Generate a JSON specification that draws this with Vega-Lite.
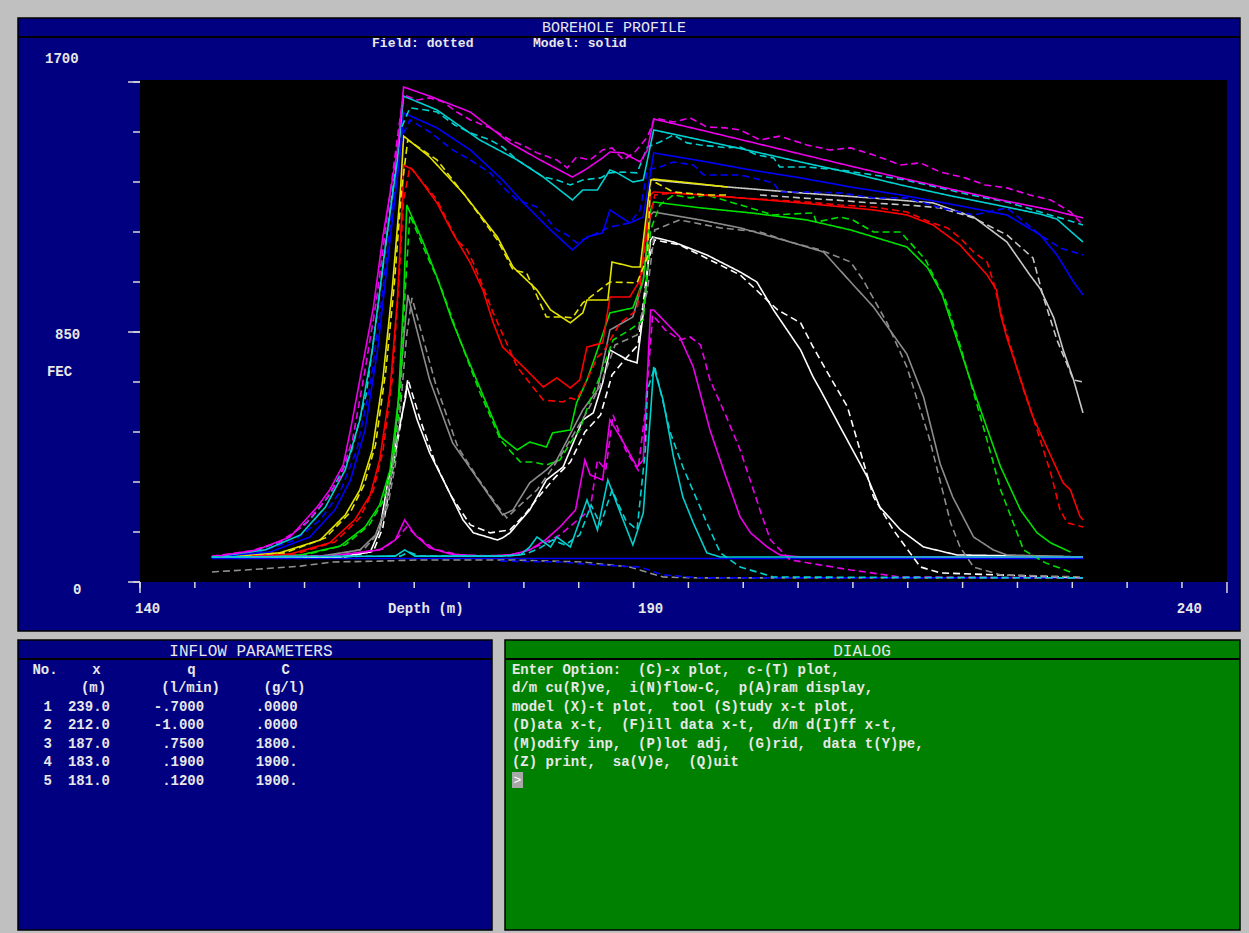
{
"$schema":"https://vega.github.io/schema/vega-lite/v6.json",
"background":"#c0c0c0",
"padding":{"left":16,"top":17,"right":11,"bottom":4},
"bounds":"flush",
"spacing":9,
"config":{"view":{"stroke":null},"axis":{"disable":true},"legend":{"disable":true},"text":{"font":"Liberation Mono"}},
"datasets":{
"curves":[
{"curve":"base","kind":"model","depth":146.9,"fec":80},{"curve":"base","kind":"model","depth":230.5,"fec":80},
{"curve":"init","kind":"field","depth":146.9,"fec":34},{"curve":"init","kind":"field","depth":151.5,"fec":44},{"curve":"init","kind":"field","depth":155.4,"fec":54},{"curve":"init","kind":"field","depth":158.5,"fec":68},{"curve":"init","kind":"field","depth":163.0,"fec":71},{"curve":"init","kind":"field","depth":166.9,"fec":75},{"curve":"init","kind":"field","depth":175.5,"fec":75},{"curve":"init","kind":"field","depth":182.5,"fec":68},{"curve":"init","kind":"field","depth":187.0,"fec":51},{"curve":"init","kind":"field","depth":190.2,"fec":17},{"curve":"init","kind":"field","depth":193.8,"fec":14},{"curve":"init","kind":"field","depth":230.5,"fec":14},
{"curve":"blueLow","kind":"field","depth":174.6,"fec":71},{"curve":"blueLow","kind":"field","depth":180.3,"fec":68},{"curve":"blueLow","kind":"field","depth":183.9,"fec":58},{"curve":"blueLow","kind":"field","depth":188.0,"fec":51},{"curve":"blueLow","kind":"field","depth":190.2,"fec":24},{"curve":"blueLow","kind":"field","depth":193.8,"fec":14},{"curve":"blueLow","kind":"field","depth":230.5,"fec":14},
{"curve":"white","kind":"model","depth":146.9,"fec":85},{"curve":"white","kind":"model","depth":159.2,"fec":85},{"curve":"white","kind":"model","depth":162.1,"fec":102},{"curve":"white","kind":"model","depth":163.0,"fec":177},{"curve":"white","kind":"model","depth":163.7,"fec":323},{"curve":"white","kind":"model","depth":164.7,"fec":493},{"curve":"white","kind":"model","depth":165.5,"fec":629},{"curve":"white","kind":"model","depth":165.6,"fec":670},{"curve":"white","kind":"model","depth":166.6,"fec":551},{"curve":"white","kind":"model","depth":167.8,"fec":439},{"curve":"white","kind":"model","depth":169.1,"fec":347},{"curve":"white","kind":"model","depth":171.0,"fec":211},{"curve":"white","kind":"model","depth":172.0,"fec":167},{"curve":"white","kind":"model","depth":174.3,"fec":143},{"curve":"white","kind":"model","depth":174.8,"fec":150},{"curve":"white","kind":"model","depth":175.5,"fec":167},{"curve":"white","kind":"model","depth":177.4,"fec":245},{"curve":"white","kind":"model","depth":179.0,"fec":347},{"curve":"white","kind":"model","depth":180.6,"fec":391},{"curve":"white","kind":"model","depth":182.5,"fec":551},{"curve":"white","kind":"model","depth":183.5,"fec":575},{"curve":"white","kind":"model","depth":184.4,"fec":677},{"curve":"white","kind":"model","depth":185.1,"fec":789},{"curve":"white","kind":"model","depth":186.8,"fec":755},{"curve":"white","kind":"model","depth":187.7,"fec":745},{"curve":"white","kind":"model","depth":188.3,"fec":915},{"curve":"white","kind":"model","depth":189.0,"fec":1163},{"curve":"white","kind":"model","depth":189.2,"fec":1173},{"curve":"white","kind":"model","depth":191.2,"fec":1156},{"curve":"white","kind":"model","depth":194.4,"fec":1112},{"curve":"white","kind":"model","depth":197.6,"fec":1054},{"curve":"white","kind":"model","depth":199.2,"fec":1020},{"curve":"white","kind":"model","depth":200.8,"fec":925},{"curve":"white","kind":"model","depth":203.4,"fec":789},{"curve":"white","kind":"model","depth":204.6,"fec":697},{"curve":"white","kind":"model","depth":205.3,"fec":653},{"curve":"white","kind":"model","depth":207.2,"fec":527},{"curve":"white","kind":"model","depth":209.8,"fec":357},{"curve":"white","kind":"model","depth":211.0,"fec":255},{"curve":"white","kind":"model","depth":213.0,"fec":177},{"curve":"white","kind":"model","depth":215.2,"fec":119},{"curve":"white","kind":"model","depth":218.4,"fec":92},{"curve":"white","kind":"model","depth":230.5,"fec":85},
{"curve":"white","kind":"field","depth":146.9,"fec":85},{"curve":"white","kind":"field","depth":159.7,"fec":85},{"curve":"white","kind":"field","depth":162.4,"fec":105},{"curve":"white","kind":"field","depth":163.3,"fec":184},{"curve":"white","kind":"field","depth":164.2,"fec":374},{"curve":"white","kind":"field","depth":165.0,"fec":534},{"curve":"white","kind":"field","depth":165.7,"fec":690},{"curve":"white","kind":"field","depth":166.9,"fec":551},{"curve":"white","kind":"field","depth":168.3,"fec":408},{"curve":"white","kind":"field","depth":169.8,"fec":296},{"curve":"white","kind":"field","depth":171.7,"fec":194},{"curve":"white","kind":"field","depth":173.6,"fec":167},{"curve":"white","kind":"field","depth":175.5,"fec":177},{"curve":"white","kind":"field","depth":176.9,"fec":228},{"curve":"white","kind":"field","depth":178.4,"fec":296},{"curve":"white","kind":"field","depth":179.8,"fec":354},{"curve":"white","kind":"field","depth":181.3,"fec":408},{"curve":"white","kind":"field","depth":182.7,"fec":510},{"curve":"white","kind":"field","depth":184.2,"fec":568},{"curve":"white","kind":"field","depth":185.3,"fec":704},{"curve":"white","kind":"field","depth":186.5,"fec":755},{"curve":"white","kind":"field","depth":187.8,"fec":806},{"curve":"white","kind":"field","depth":188.8,"fec":1095},{"curve":"white","kind":"field","depth":189.4,"fec":1163},{"curve":"white","kind":"field","depth":191.8,"fec":1146},{"curve":"white","kind":"field","depth":194.7,"fec":1095},{"curve":"white","kind":"field","depth":197.6,"fec":1044},{"curve":"white","kind":"field","depth":201.2,"fec":925},{"curve":"white","kind":"field","depth":203.4,"fec":881},{"curve":"white","kind":"field","depth":204.6,"fec":799},{"curve":"white","kind":"field","depth":206.0,"fec":711},{"curve":"white","kind":"field","depth":207.9,"fec":595},{"curve":"white","kind":"field","depth":210.4,"fec":289},{"curve":"white","kind":"field","depth":212.3,"fec":177},{"curve":"white","kind":"field","depth":213.9,"fec":99},{"curve":"white","kind":"field","depth":214.9,"fec":51},{"curve":"white","kind":"field","depth":216.8,"fec":31},{"curve":"white","kind":"field","depth":230.5,"fec":14},
{"curve":"gray","kind":"model","depth":146.9,"fec":85},{"curve":"gray","kind":"model","depth":157.3,"fec":88},{"curve":"gray","kind":"model","depth":161.1,"fec":109},{"curve":"gray","kind":"model","depth":162.6,"fec":160},{"curve":"gray","kind":"model","depth":163.5,"fec":245},{"curve":"gray","kind":"model","depth":164.2,"fec":381},{"curve":"gray","kind":"model","depth":164.8,"fec":619},{"curve":"gray","kind":"model","depth":165.3,"fec":823},{"curve":"gray","kind":"model","depth":165.7,"fec":976},{"curve":"gray","kind":"model","depth":167.8,"fec":687},{"curve":"gray","kind":"model","depth":170.0,"fec":473},{"curve":"gray","kind":"model","depth":172.0,"fec":371},{"curve":"gray","kind":"model","depth":173.6,"fec":289},{"curve":"gray","kind":"model","depth":174.8,"fec":228},{"curve":"gray","kind":"model","depth":175.8,"fec":245},{"curve":"gray","kind":"model","depth":177.4,"fec":337},{"curve":"gray","kind":"model","depth":179.0,"fec":381},{"curve":"gray","kind":"model","depth":180.0,"fec":415},{"curve":"gray","kind":"model","depth":182.5,"fec":585},{"curve":"gray","kind":"model","depth":183.9,"fec":653},{"curve":"gray","kind":"model","depth":185.1,"fec":857},{"curve":"gray","kind":"model","depth":187.3,"fec":901},{"curve":"gray","kind":"model","depth":188.3,"fec":1027},{"curve":"gray","kind":"model","depth":189.0,"fec":1248},{"curve":"gray","kind":"model","depth":189.3,"fec":1258},{"curve":"gray","kind":"model","depth":193.8,"fec":1231},{"curve":"gray","kind":"model","depth":197.6,"fec":1204},{"curve":"gray","kind":"model","depth":202.4,"fec":1156},{"curve":"gray","kind":"model","depth":205.6,"fec":1122},{"curve":"gray","kind":"model","depth":208.2,"fec":1020},{"curve":"gray","kind":"model","depth":210.4,"fec":935},{"curve":"gray","kind":"model","depth":213.6,"fec":775},{"curve":"gray","kind":"model","depth":215.2,"fec":629},{"curve":"gray","kind":"model","depth":216.8,"fec":401},{"curve":"gray","kind":"model","depth":218.0,"fec":289},{"curve":"gray","kind":"model","depth":220.0,"fec":153},{"curve":"gray","kind":"model","depth":221.9,"fec":109},{"curve":"gray","kind":"model","depth":223.2,"fec":92},{"curve":"gray","kind":"model","depth":230.5,"fec":85},
{"curve":"gray","kind":"field","depth":146.9,"fec":85},{"curve":"gray","kind":"field","depth":157.8,"fec":88},{"curve":"gray","kind":"field","depth":161.5,"fec":112},{"curve":"gray","kind":"field","depth":162.9,"fec":167},{"curve":"gray","kind":"field","depth":163.8,"fec":262},{"curve":"gray","kind":"field","depth":164.5,"fec":398},{"curve":"gray","kind":"field","depth":165.1,"fec":636},{"curve":"gray","kind":"field","depth":165.6,"fec":840},{"curve":"gray","kind":"field","depth":166.1,"fec":966},{"curve":"gray","kind":"field","depth":168.4,"fec":670},{"curve":"gray","kind":"field","depth":170.5,"fec":459},{"curve":"gray","kind":"field","depth":172.4,"fec":354},{"curve":"gray","kind":"field","depth":174.1,"fec":269},{"curve":"gray","kind":"field","depth":175.2,"fec":218},{"curve":"gray","kind":"field","depth":176.5,"fec":262},{"curve":"gray","kind":"field","depth":178.1,"fec":313},{"curve":"gray","kind":"field","depth":179.6,"fec":388},{"curve":"gray","kind":"field","depth":180.6,"fec":442},{"curve":"gray","kind":"field","depth":183.0,"fec":585},{"curve":"gray","kind":"field","depth":184.2,"fec":670},{"curve":"gray","kind":"field","depth":185.6,"fec":806},{"curve":"gray","kind":"field","depth":187.7,"fec":840},{"curve":"gray","kind":"field","depth":188.7,"fec":993},{"curve":"gray","kind":"field","depth":189.4,"fec":1197},{"curve":"gray","kind":"field","depth":191.8,"fec":1231},{"curve":"gray","kind":"field","depth":195.7,"fec":1204},{"curve":"gray","kind":"field","depth":199.5,"fec":1190},{"curve":"gray","kind":"field","depth":202.4,"fec":1156},{"curve":"gray","kind":"field","depth":205.3,"fec":1129},{"curve":"gray","kind":"field","depth":208.2,"fec":1088},{"curve":"gray","kind":"field","depth":209.4,"fec":1027},{"curve":"gray","kind":"field","depth":211.7,"fec":881},{"curve":"gray","kind":"field","depth":213.6,"fec":731},{"curve":"gray","kind":"field","depth":215.8,"fec":483},{"curve":"gray","kind":"field","depth":217.8,"fec":201},{"curve":"gray","kind":"field","depth":218.7,"fec":119},{"curve":"gray","kind":"field","depth":220.0,"fec":51},{"curve":"gray","kind":"field","depth":222.6,"fec":24},{"curve":"gray","kind":"field","depth":230.5,"fec":17},
{"curve":"green","kind":"model","depth":146.9,"fec":85},{"curve":"green","kind":"model","depth":155.4,"fec":92},{"curve":"green","kind":"model","depth":159.2,"fec":122},{"curve":"green","kind":"model","depth":161.6,"fec":187},{"curve":"green","kind":"model","depth":163.0,"fec":262},{"curve":"green","kind":"model","depth":164.0,"fec":381},{"curve":"green","kind":"model","depth":164.8,"fec":619},{"curve":"green","kind":"model","depth":165.3,"fec":959},{"curve":"green","kind":"model","depth":165.6,"fec":1282},{"curve":"green","kind":"model","depth":167.2,"fec":1153},{"curve":"green","kind":"model","depth":168.5,"fec":1037},{"curve":"green","kind":"model","depth":170.0,"fec":884},{"curve":"green","kind":"model","depth":171.3,"fec":772},{"curve":"green","kind":"model","depth":172.3,"fec":687},{"curve":"green","kind":"model","depth":174.6,"fec":493},{"curve":"green","kind":"model","depth":176.2,"fec":449},{"curve":"green","kind":"model","depth":177.4,"fec":476},{"curve":"green","kind":"model","depth":179.0,"fec":459},{"curve":"green","kind":"model","depth":179.6,"fec":507},{"curve":"green","kind":"model","depth":181.3,"fec":517},{"curve":"green","kind":"model","depth":181.9,"fec":609},{"curve":"green","kind":"model","depth":182.9,"fec":687},{"curve":"green","kind":"model","depth":183.9,"fec":789},{"curve":"green","kind":"model","depth":185.1,"fec":915},{"curve":"green","kind":"model","depth":187.3,"fec":932},{"curve":"green","kind":"model","depth":188.3,"fec":1027},{"curve":"green","kind":"model","depth":189.0,"fec":1265},{"curve":"green","kind":"model","depth":189.3,"fec":1292},{"curve":"green","kind":"model","depth":193.8,"fec":1272},{"curve":"green","kind":"model","depth":198.6,"fec":1255},{"curve":"green","kind":"model","depth":204.0,"fec":1231},{"curve":"green","kind":"model","depth":208.2,"fec":1197},{"curve":"green","kind":"model","depth":213.6,"fec":1139},{"curve":"green","kind":"model","depth":215.6,"fec":1068},{"curve":"green","kind":"model","depth":217.0,"fec":976},{"curve":"green","kind":"model","depth":220.0,"fec":653},{"curve":"green","kind":"model","depth":222.6,"fec":391},{"curve":"green","kind":"model","depth":224.5,"fec":245},{"curve":"green","kind":"model","depth":226.1,"fec":167},{"curve":"green","kind":"model","depth":227.4,"fec":133},{"curve":"green","kind":"model","depth":229.3,"fec":102},
{"curve":"green","kind":"field","depth":146.9,"fec":85},{"curve":"green","kind":"field","depth":155.8,"fec":92},{"curve":"green","kind":"field","depth":159.7,"fec":126},{"curve":"green","kind":"field","depth":162.0,"fec":194},{"curve":"green","kind":"field","depth":163.3,"fec":272},{"curve":"green","kind":"field","depth":164.3,"fec":398},{"curve":"green","kind":"field","depth":165.0,"fec":636},{"curve":"green","kind":"field","depth":165.4,"fec":959},{"curve":"green","kind":"field","depth":165.9,"fec":1248},{"curve":"green","kind":"field","depth":167.3,"fec":1129},{"curve":"green","kind":"field","depth":168.8,"fec":1010},{"curve":"green","kind":"field","depth":170.7,"fec":823},{"curve":"green","kind":"field","depth":172.6,"fec":646},{"curve":"green","kind":"field","depth":174.6,"fec":483},{"curve":"green","kind":"field","depth":176.5,"fec":408},{"curve":"green","kind":"field","depth":177.7,"fec":408},{"curve":"green","kind":"field","depth":179.0,"fec":398},{"curve":"green","kind":"field","depth":180.3,"fec":415},{"curve":"green","kind":"field","depth":181.3,"fec":473},{"curve":"green","kind":"field","depth":182.2,"fec":517},{"curve":"green","kind":"field","depth":183.2,"fec":619},{"curve":"green","kind":"field","depth":184.2,"fec":704},{"curve":"green","kind":"field","depth":185.4,"fec":823},{"curve":"green","kind":"field","depth":187.0,"fec":857},{"curve":"green","kind":"field","depth":188.3,"fec":891},{"curve":"green","kind":"field","depth":189.0,"fec":1197},{"curve":"green","kind":"field","depth":189.9,"fec":1282},{"curve":"green","kind":"field","depth":191.2,"fec":1316},{"curve":"green","kind":"field","depth":192.8,"fec":1306},{"curve":"green","kind":"field","depth":194.4,"fec":1316},{"curve":"green","kind":"field","depth":200.8,"fec":1248},{"curve":"green","kind":"field","depth":204.6,"fec":1255},{"curve":"green","kind":"field","depth":204.9,"fec":1224},{"curve":"green","kind":"field","depth":207.2,"fec":1241},{"curve":"green","kind":"field","depth":208.4,"fec":1231},{"curve":"green","kind":"field","depth":210.4,"fec":1190},{"curve":"green","kind":"field","depth":213.0,"fec":1190},{"curve":"green","kind":"field","depth":215.4,"fec":1095},{"curve":"green","kind":"field","depth":217.3,"fec":959},{"curve":"green","kind":"field","depth":218.7,"fec":806},{"curve":"green","kind":"field","depth":220.2,"fec":619},{"curve":"green","kind":"field","depth":221.3,"fec":482},{"curve":"green","kind":"field","depth":222.6,"fec":313},{"curve":"green","kind":"field","depth":224.8,"fec":109},{"curve":"green","kind":"field","depth":226.9,"fec":65},{"curve":"green","kind":"field","depth":229.3,"fec":34},
{"curve":"red","kind":"model","depth":146.9,"fec":85},{"curve":"red","kind":"model","depth":154.4,"fec":95},{"curve":"red","kind":"model","depth":158.2,"fec":133},{"curve":"red","kind":"model","depth":160.6,"fec":211},{"curve":"red","kind":"model","depth":162.1,"fec":296},{"curve":"red","kind":"model","depth":163.0,"fec":415},{"curve":"red","kind":"model","depth":164.0,"fec":653},{"curve":"red","kind":"model","depth":164.7,"fec":959},{"curve":"red","kind":"model","depth":165.2,"fec":1299},{"curve":"red","kind":"model","depth":165.3,"fec":1418},{"curve":"red","kind":"model","depth":166.2,"fec":1401},{"curve":"red","kind":"model","depth":168.5,"fec":1289},{"curve":"red","kind":"model","depth":170.0,"fec":1187},{"curve":"red","kind":"model","depth":171.7,"fec":1085},{"curve":"red","kind":"model","depth":172.9,"fec":993},{"curve":"red","kind":"model","depth":173.9,"fec":881},{"curve":"red","kind":"model","depth":174.8,"fec":799},{"curve":"red","kind":"model","depth":176.8,"fec":731},{"curve":"red","kind":"model","depth":178.7,"fec":663},{"curve":"red","kind":"model","depth":180.0,"fec":694},{"curve":"red","kind":"model","depth":181.3,"fec":660},{"curve":"red","kind":"model","depth":182.2,"fec":687},{"curve":"red","kind":"model","depth":182.9,"fec":799},{"curve":"red","kind":"model","depth":184.4,"fec":813},{"curve":"red","kind":"model","depth":185.1,"fec":969},{"curve":"red","kind":"model","depth":187.0,"fec":969},{"curve":"red","kind":"model","depth":188.0,"fec":1027},{"curve":"red","kind":"model","depth":189.0,"fec":1316},{"curve":"red","kind":"model","depth":189.3,"fec":1326},{"curve":"red","kind":"model","depth":193.8,"fec":1316},{"curve":"red","kind":"model","depth":198.6,"fec":1303},{"curve":"red","kind":"model","depth":203.4,"fec":1289},{"curve":"red","kind":"model","depth":210.4,"fec":1265},{"curve":"red","kind":"model","depth":213.6,"fec":1248},{"curve":"red","kind":"model","depth":216.1,"fec":1214},{"curve":"red","kind":"model","depth":218.7,"fec":1146},{"curve":"red","kind":"model","depth":221.3,"fec":1044},{"curve":"red","kind":"model","depth":222.2,"fec":993},{"curve":"red","kind":"model","depth":222.6,"fec":908},{"curve":"red","kind":"model","depth":223.2,"fec":830},{"curve":"red","kind":"model","depth":225.7,"fec":561},{"curve":"red","kind":"model","depth":228.6,"fec":337},{"curve":"red","kind":"model","depth":229.3,"fec":313},{"curve":"red","kind":"model","depth":230.2,"fec":224},{"curve":"red","kind":"model","depth":230.5,"fec":211},
{"curve":"red","kind":"field","depth":146.9,"fec":85},{"curve":"red","kind":"field","depth":154.9,"fec":95},{"curve":"red","kind":"field","depth":158.7,"fec":136},{"curve":"red","kind":"field","depth":161.1,"fec":218},{"curve":"red","kind":"field","depth":162.4,"fec":313},{"curve":"red","kind":"field","depth":163.3,"fec":442},{"curve":"red","kind":"field","depth":164.2,"fec":687},{"curve":"red","kind":"field","depth":164.8,"fec":993},{"curve":"red","kind":"field","depth":165.3,"fec":1299},{"curve":"red","kind":"field","depth":165.9,"fec":1411},{"curve":"red","kind":"field","depth":168.5,"fec":1299},{"curve":"red","kind":"field","depth":170.4,"fec":1163},{"curve":"red","kind":"field","depth":171.4,"fec":1129},{"curve":"red","kind":"field","depth":172.0,"fec":1085},{"curve":"red","kind":"field","depth":173.9,"fec":915},{"curve":"red","kind":"field","depth":176.2,"fec":731},{"curve":"red","kind":"field","depth":177.4,"fec":677},{"curve":"red","kind":"field","depth":178.7,"fec":619},{"curve":"red","kind":"field","depth":180.6,"fec":612},{"curve":"red","kind":"field","depth":181.3,"fec":626},{"curve":"red","kind":"field","depth":181.9,"fec":619},{"curve":"red","kind":"field","depth":182.9,"fec":687},{"curve":"red","kind":"field","depth":183.9,"fec":765},{"curve":"red","kind":"field","depth":184.4,"fec":779},{"curve":"red","kind":"field","depth":186.1,"fec":881},{"curve":"red","kind":"field","depth":187.7,"fec":925},{"curve":"red","kind":"field","depth":188.7,"fec":1197},{"curve":"red","kind":"field","depth":189.4,"fec":1316},{"curve":"red","kind":"field","depth":191.2,"fec":1323},{"curve":"red","kind":"field","depth":194.4,"fec":1316},{"curve":"red","kind":"field","depth":197.6,"fec":1306},{"curve":"red","kind":"field","depth":200.8,"fec":1299},{"curve":"red","kind":"field","depth":204.0,"fec":1292},{"curve":"red","kind":"field","depth":207.2,"fec":1282},{"curve":"red","kind":"field","depth":210.4,"fec":1275},{"curve":"red","kind":"field","depth":213.6,"fec":1258},{"curve":"red","kind":"field","depth":215.8,"fec":1224},{"curve":"red","kind":"field","depth":217.5,"fec":1204},{"curve":"red","kind":"field","depth":218.7,"fec":1170},{"curve":"red","kind":"field","depth":220.0,"fec":1122},{"curve":"red","kind":"field","depth":221.3,"fec":1088},{"curve":"red","kind":"field","depth":221.9,"fec":1020},{"curve":"red","kind":"field","depth":222.8,"fec":891},{"curve":"red","kind":"field","depth":224.8,"fec":653},{"curve":"red","kind":"field","depth":225.7,"fec":561},{"curve":"red","kind":"field","depth":227.4,"fec":371},{"curve":"red","kind":"field","depth":228.3,"fec":245},{"curve":"red","kind":"field","depth":229.0,"fec":201},{"curve":"red","kind":"field","depth":230.5,"fec":187},
{"curve":"lgray","kind":"model","depth":189.2,"fec":1367},{"curve":"lgray","kind":"model","depth":196.4,"fec":1343},{"curve":"lgray","kind":"model","depth":203.4,"fec":1323},{"curve":"lgray","kind":"model","depth":210.1,"fec":1306},{"curve":"lgray","kind":"model","depth":216.1,"fec":1289},{"curve":"lgray","kind":"model","depth":220.0,"fec":1241},{"curve":"lgray","kind":"model","depth":223.2,"fec":1156},{"curve":"lgray","kind":"model","depth":225.4,"fec":1044},{"curve":"lgray","kind":"model","depth":226.4,"fec":997},{"curve":"lgray","kind":"model","depth":227.7,"fec":898},{"curve":"lgray","kind":"model","depth":228.6,"fec":789},{"curve":"lgray","kind":"model","depth":229.6,"fec":687},{"curve":"lgray","kind":"model","depth":230.5,"fec":575},
{"curve":"lgray","kind":"field","depth":199.5,"fec":1316},{"curve":"lgray","kind":"field","depth":203.4,"fec":1306},{"curve":"lgray","kind":"field","depth":206.6,"fec":1299},{"curve":"lgray","kind":"field","depth":210.1,"fec":1289},{"curve":"lgray","kind":"field","depth":213.6,"fec":1282},{"curve":"lgray","kind":"field","depth":216.8,"fec":1272},{"curve":"lgray","kind":"field","depth":220.0,"fec":1238},{"curve":"lgray","kind":"field","depth":223.2,"fec":1180},{"curve":"lgray","kind":"field","depth":225.7,"fec":1102},{"curve":"lgray","kind":"field","depth":226.7,"fec":969},{"curve":"lgray","kind":"field","depth":228.0,"fec":823},{"curve":"lgray","kind":"field","depth":229.6,"fec":687},{"curve":"lgray","kind":"field","depth":230.5,"fec":680},
{"curve":"yellow","kind":"model","depth":146.9,"fec":85},{"curve":"yellow","kind":"model","depth":153.4,"fec":99},{"curve":"yellow","kind":"model","depth":157.3,"fec":143},{"curve":"yellow","kind":"model","depth":159.7,"fec":228},{"curve":"yellow","kind":"model","depth":161.1,"fec":313},{"curve":"yellow","kind":"model","depth":162.3,"fec":449},{"curve":"yellow","kind":"model","depth":163.3,"fec":687},{"curve":"yellow","kind":"model","depth":164.2,"fec":993},{"curve":"yellow","kind":"model","depth":165.0,"fec":1333},{"curve":"yellow","kind":"model","depth":165.3,"fec":1516},{"curve":"yellow","kind":"model","depth":167.8,"fec":1445},{"curve":"yellow","kind":"model","depth":171.0,"fec":1323},{"curve":"yellow","kind":"model","depth":174.3,"fec":1173},{"curve":"yellow","kind":"model","depth":175.8,"fec":1071},{"curve":"yellow","kind":"model","depth":178.1,"fec":993},{"curve":"yellow","kind":"model","depth":179.4,"fec":925},{"curve":"yellow","kind":"model","depth":181.3,"fec":881},{"curve":"yellow","kind":"model","depth":182.5,"fec":915},{"curve":"yellow","kind":"model","depth":182.9,"fec":959},{"curve":"yellow","kind":"model","depth":184.9,"fec":959},{"curve":"yellow","kind":"model","depth":185.3,"fec":1088},{"curve":"yellow","kind":"model","depth":187.3,"fec":1071},{"curve":"yellow","kind":"model","depth":188.0,"fec":1071},{"curve":"yellow","kind":"model","depth":189.0,"fec":1367},{"curve":"yellow","kind":"model","depth":189.3,"fec":1370},{"curve":"yellow","kind":"model","depth":192.8,"fec":1357},{"curve":"yellow","kind":"model","depth":196.4,"fec":1343},
{"curve":"yellow","kind":"field","depth":146.9,"fec":85},{"curve":"yellow","kind":"field","depth":153.9,"fec":99},{"curve":"yellow","kind":"field","depth":157.8,"fec":150},{"curve":"yellow","kind":"field","depth":160.2,"fec":238},{"curve":"yellow","kind":"field","depth":161.5,"fec":330},{"curve":"yellow","kind":"field","depth":162.6,"fec":466},{"curve":"yellow","kind":"field","depth":163.6,"fec":721},{"curve":"yellow","kind":"field","depth":164.4,"fec":1010},{"curve":"yellow","kind":"field","depth":165.1,"fec":1333},{"curve":"yellow","kind":"field","depth":165.7,"fec":1503},{"curve":"yellow","kind":"field","depth":168.5,"fec":1435},{"curve":"yellow","kind":"field","depth":171.3,"fec":1309},{"curve":"yellow","kind":"field","depth":174.3,"fec":1163},{"curve":"yellow","kind":"field","depth":175.8,"fec":1061},{"curve":"yellow","kind":"field","depth":177.1,"fec":1051},{"curve":"yellow","kind":"field","depth":179.0,"fec":901},{"curve":"yellow","kind":"field","depth":180.6,"fec":901},{"curve":"yellow","kind":"field","depth":181.5,"fec":898},{"curve":"yellow","kind":"field","depth":182.5,"fec":949},{"curve":"yellow","kind":"field","depth":185.1,"fec":1020},{"curve":"yellow","kind":"field","depth":187.7,"fec":1017},{"curve":"yellow","kind":"field","depth":188.7,"fec":1105},{"curve":"yellow","kind":"field","depth":189.0,"fec":1367},{"curve":"yellow","kind":"field","depth":191.2,"fec":1326},{"curve":"yellow","kind":"field","depth":194.4,"fec":1316},{"curve":"yellow","kind":"field","depth":196.4,"fec":1316},
{"curve":"blue","kind":"model","depth":146.9,"fec":85},{"curve":"blue","kind":"model","depth":152.5,"fec":102},{"curve":"blue","kind":"model","depth":156.3,"fec":153},{"curve":"blue","kind":"model","depth":158.7,"fec":245},{"curve":"blue","kind":"model","depth":160.2,"fec":347},{"curve":"blue","kind":"model","depth":161.6,"fec":517},{"curve":"blue","kind":"model","depth":162.8,"fec":789},{"curve":"blue","kind":"model","depth":164.0,"fec":1163},{"curve":"blue","kind":"model","depth":165.0,"fec":1469},{"curve":"blue","kind":"model","depth":165.3,"fec":1595},{"curve":"blue","kind":"model","depth":168.5,"fec":1544},{"curve":"blue","kind":"model","depth":171.7,"fec":1469},{"curve":"blue","kind":"model","depth":174.8,"fec":1367},{"curve":"blue","kind":"model","depth":176.8,"fec":1289},{"curve":"blue","kind":"model","depth":179.4,"fec":1197},{"curve":"blue","kind":"model","depth":181.5,"fec":1129},{"curve":"blue","kind":"model","depth":182.9,"fec":1173},{"curve":"blue","kind":"model","depth":184.4,"fec":1187},{"curve":"blue","kind":"model","depth":185.1,"fec":1265},{"curve":"blue","kind":"model","depth":187.0,"fec":1221},{"curve":"blue","kind":"model","depth":188.3,"fec":1241},{"curve":"blue","kind":"model","depth":189.3,"fec":1459},{"curve":"blue","kind":"model","depth":193.8,"fec":1432},{"curve":"blue","kind":"model","depth":198.6,"fec":1401},{"curve":"blue","kind":"model","depth":203.4,"fec":1374},{"curve":"blue","kind":"model","depth":208.2,"fec":1343},{"curve":"blue","kind":"model","depth":213.0,"fec":1316},{"curve":"blue","kind":"model","depth":217.8,"fec":1285},{"curve":"blue","kind":"model","depth":223.2,"fec":1248},{"curve":"blue","kind":"model","depth":226.4,"fec":1180},{"curve":"blue","kind":"model","depth":228.0,"fec":1112},{"curve":"blue","kind":"model","depth":229.6,"fec":1020},{"curve":"blue","kind":"model","depth":230.5,"fec":976},
{"curve":"blue","kind":"field","depth":146.9,"fec":85},{"curve":"blue","kind":"field","depth":151.5,"fec":102},{"curve":"blue","kind":"field","depth":154.9,"fec":143},{"curve":"blue","kind":"field","depth":157.3,"fec":211},{"curve":"blue","kind":"field","depth":159.2,"fec":306},{"curve":"blue","kind":"field","depth":160.8,"fec":449},{"curve":"blue","kind":"field","depth":162.1,"fec":670},{"curve":"blue","kind":"field","depth":163.2,"fec":959},{"curve":"blue","kind":"field","depth":164.3,"fec":1299},{"curve":"blue","kind":"field","depth":165.2,"fec":1520},{"curve":"blue","kind":"field","depth":165.9,"fec":1571},{"curve":"blue","kind":"field","depth":167.8,"fec":1530},{"curve":"blue","kind":"field","depth":170.0,"fec":1469},{"curve":"blue","kind":"field","depth":171.7,"fec":1435},{"curve":"blue","kind":"field","depth":173.6,"fec":1391},{"curve":"blue","kind":"field","depth":175.1,"fec":1333},{"curve":"blue","kind":"field","depth":176.2,"fec":1299},{"curve":"blue","kind":"field","depth":178.1,"fec":1275},{"curve":"blue","kind":"field","depth":180.0,"fec":1197},{"curve":"blue","kind":"field","depth":181.0,"fec":1180},{"curve":"blue","kind":"field","depth":181.9,"fec":1153},{"curve":"blue","kind":"field","depth":183.9,"fec":1187},{"curve":"blue","kind":"field","depth":185.1,"fec":1207},{"curve":"blue","kind":"field","depth":187.0,"fec":1221},{"curve":"blue","kind":"field","depth":188.0,"fec":1265},{"curve":"blue","kind":"field","depth":188.7,"fec":1401},{"curve":"blue","kind":"field","depth":189.9,"fec":1411},{"curve":"blue","kind":"field","depth":191.2,"fec":1428},{"curve":"blue","kind":"field","depth":193.1,"fec":1418},{"curve":"blue","kind":"field","depth":194.1,"fec":1384},{"curve":"blue","kind":"field","depth":197.6,"fec":1384},{"curve":"blue","kind":"field","depth":200.8,"fec":1357},{"curve":"blue","kind":"field","depth":201.4,"fec":1326},{"curve":"blue","kind":"field","depth":204.0,"fec":1326},{"curve":"blue","kind":"field","depth":207.2,"fec":1323},{"curve":"blue","kind":"field","depth":210.4,"fec":1306},{"curve":"blue","kind":"field","depth":213.6,"fec":1306},{"curve":"blue","kind":"field","depth":216.8,"fec":1272},{"curve":"blue","kind":"field","depth":220.0,"fec":1248},{"curve":"blue","kind":"field","depth":223.2,"fec":1272},{"curve":"blue","kind":"field","depth":226.4,"fec":1180},{"curve":"blue","kind":"field","depth":228.3,"fec":1136},{"curve":"blue","kind":"field","depth":230.5,"fec":1112},
{"curve":"cyan","kind":"model","depth":146.9,"fec":85},{"curve":"cyan","kind":"model","depth":152.0,"fec":109},{"curve":"cyan","kind":"model","depth":155.4,"fec":160},{"curve":"cyan","kind":"model","depth":157.8,"fec":255},{"curve":"cyan","kind":"model","depth":159.7,"fec":381},{"curve":"cyan","kind":"model","depth":161.1,"fec":551},{"curve":"cyan","kind":"model","depth":162.3,"fec":789},{"curve":"cyan","kind":"model","depth":163.5,"fec":1129},{"curve":"cyan","kind":"model","depth":164.7,"fec":1435},{"curve":"cyan","kind":"model","depth":165.3,"fec":1652},{"curve":"cyan","kind":"model","depth":168.5,"fec":1605},{"curve":"cyan","kind":"model","depth":172.6,"fec":1503},{"curve":"cyan","kind":"model","depth":176.2,"fec":1435},{"curve":"cyan","kind":"model","depth":178.7,"fec":1377},{"curve":"cyan","kind":"model","depth":181.5,"fec":1299},{"curve":"cyan","kind":"model","depth":182.5,"fec":1333},{"curve":"cyan","kind":"model","depth":183.9,"fec":1333},{"curve":"cyan","kind":"model","depth":185.1,"fec":1401},{"curve":"cyan","kind":"model","depth":185.8,"fec":1391},{"curve":"cyan","kind":"model","depth":187.3,"fec":1360},{"curve":"cyan","kind":"model","depth":188.3,"fec":1367},{"curve":"cyan","kind":"model","depth":189.3,"fec":1537},{"curve":"cyan","kind":"model","depth":193.8,"fec":1503},{"curve":"cyan","kind":"model","depth":198.6,"fec":1466},{"curve":"cyan","kind":"model","depth":203.4,"fec":1428},{"curve":"cyan","kind":"model","depth":208.2,"fec":1391},{"curve":"cyan","kind":"model","depth":213.0,"fec":1350},{"curve":"cyan","kind":"model","depth":217.8,"fec":1313},{"curve":"cyan","kind":"model","depth":222.6,"fec":1279},{"curve":"cyan","kind":"model","depth":226.4,"fec":1251},{"curve":"cyan","kind":"model","depth":228.0,"fec":1234},{"curve":"cyan","kind":"model","depth":229.3,"fec":1193},{"curve":"cyan","kind":"model","depth":230.5,"fec":1156},
{"curve":"cyan","kind":"field","depth":146.9,"fec":85},{"curve":"cyan","kind":"field","depth":151.0,"fec":105},{"curve":"cyan","kind":"field","depth":153.9,"fec":143},{"curve":"cyan","kind":"field","depth":156.3,"fec":211},{"curve":"cyan","kind":"field","depth":158.2,"fec":296},{"curve":"cyan","kind":"field","depth":160.2,"fec":432},{"curve":"cyan","kind":"field","depth":161.7,"fec":636},{"curve":"cyan","kind":"field","depth":162.8,"fec":925},{"curve":"cyan","kind":"field","depth":164.0,"fec":1265},{"curve":"cyan","kind":"field","depth":165.0,"fec":1537},{"curve":"cyan","kind":"field","depth":165.9,"fec":1612},{"curve":"cyan","kind":"field","depth":167.4,"fec":1605},{"curve":"cyan","kind":"field","depth":168.5,"fec":1598},{"curve":"cyan","kind":"field","depth":170.2,"fec":1554},{"curve":"cyan","kind":"field","depth":171.7,"fec":1527},{"curve":"cyan","kind":"field","depth":173.6,"fec":1503},{"curve":"cyan","kind":"field","depth":174.8,"fec":1479},{"curve":"cyan","kind":"field","depth":176.2,"fec":1435},{"curve":"cyan","kind":"field","depth":177.4,"fec":1408},{"curve":"cyan","kind":"field","depth":178.7,"fec":1377},{"curve":"cyan","kind":"field","depth":180.0,"fec":1367},{"curve":"cyan","kind":"field","depth":181.3,"fec":1350},{"curve":"cyan","kind":"field","depth":182.5,"fec":1367},{"curve":"cyan","kind":"field","depth":184.2,"fec":1374},{"curve":"cyan","kind":"field","depth":185.1,"fec":1391},{"curve":"cyan","kind":"field","depth":186.4,"fec":1394},{"curve":"cyan","kind":"field","depth":187.7,"fec":1391},{"curve":"cyan","kind":"field","depth":188.7,"fec":1479},{"curve":"cyan","kind":"field","depth":189.9,"fec":1496},{"curve":"cyan","kind":"field","depth":191.2,"fec":1520},{"curve":"cyan","kind":"field","depth":192.5,"fec":1493},{"curve":"cyan","kind":"field","depth":193.8,"fec":1486},{"curve":"cyan","kind":"field","depth":196.4,"fec":1476},{"curve":"cyan","kind":"field","depth":197.6,"fec":1479},{"curve":"cyan","kind":"field","depth":199.2,"fec":1452},{"curve":"cyan","kind":"field","depth":200.8,"fec":1442},{"curve":"cyan","kind":"field","depth":201.4,"fec":1411},{"curve":"cyan","kind":"field","depth":204.0,"fec":1411},{"curve":"cyan","kind":"field","depth":207.2,"fec":1401},{"curve":"cyan","kind":"field","depth":210.4,"fec":1384},{"curve":"cyan","kind":"field","depth":213.4,"fec":1367},{"curve":"cyan","kind":"field","depth":216.8,"fec":1340},{"curve":"cyan","kind":"field","depth":219.7,"fec":1316},{"curve":"cyan","kind":"field","depth":223.2,"fec":1292},{"curve":"cyan","kind":"field","depth":226.4,"fec":1258},{"curve":"cyan","kind":"field","depth":228.3,"fec":1238},{"curve":"cyan","kind":"field","depth":230.5,"fec":1214},
{"curve":"mag","kind":"model","depth":146.9,"fec":85},{"curve":"mag","kind":"model","depth":151.2,"fec":109},{"curve":"mag","kind":"model","depth":154.4,"fec":153},{"curve":"mag","kind":"model","depth":157.0,"fec":255},{"curve":"mag","kind":"model","depth":158.2,"fec":313},{"curve":"mag","kind":"model","depth":159.5,"fec":398},{"curve":"mag","kind":"model","depth":160.2,"fec":517},{"curve":"mag","kind":"model","depth":161.4,"fec":745},{"curve":"mag","kind":"model","depth":162.4,"fec":935},{"curve":"mag","kind":"model","depth":163.3,"fec":1173},{"curve":"mag","kind":"model","depth":164.7,"fec":1469},{"curve":"mag","kind":"model","depth":165.3,"fec":1683},{"curve":"mag","kind":"model","depth":167.8,"fec":1652},{"curve":"mag","kind":"model","depth":171.7,"fec":1598},{"curve":"mag","kind":"model","depth":175.5,"fec":1493},{"curve":"mag","kind":"model","depth":178.4,"fec":1435},{"curve":"mag","kind":"model","depth":181.5,"fec":1377},{"curve":"mag","kind":"model","depth":182.7,"fec":1401},{"curve":"mag","kind":"model","depth":184.4,"fec":1442},{"curve":"mag","kind":"model","depth":185.1,"fec":1462},{"curve":"mag","kind":"model","depth":186.4,"fec":1459},{"curve":"mag","kind":"model","depth":188.0,"fec":1428},{"curve":"mag","kind":"model","depth":188.7,"fec":1469},{"curve":"mag","kind":"model","depth":189.3,"fec":1574},{"curve":"mag","kind":"model","depth":193.8,"fec":1537},{"curve":"mag","kind":"model","depth":198.6,"fec":1496},{"curve":"mag","kind":"model","depth":203.4,"fec":1455},{"curve":"mag","kind":"model","depth":208.2,"fec":1414},{"curve":"mag","kind":"model","depth":213.0,"fec":1374},{"curve":"mag","kind":"model","depth":217.8,"fec":1336},{"curve":"mag","kind":"model","depth":222.6,"fec":1299},{"curve":"mag","kind":"model","depth":227.4,"fec":1265},{"curve":"mag","kind":"model","depth":230.5,"fec":1238},
{"curve":"mag","kind":"field","depth":146.9,"fec":88},{"curve":"mag","kind":"field","depth":150.6,"fec":105},{"curve":"mag","kind":"field","depth":153.4,"fec":136},{"curve":"mag","kind":"field","depth":155.8,"fec":194},{"curve":"mag","kind":"field","depth":157.8,"fec":279},{"curve":"mag","kind":"field","depth":159.2,"fec":354},{"curve":"mag","kind":"field","depth":160.4,"fec":483},{"curve":"mag","kind":"field","depth":161.6,"fec":721},{"curve":"mag","kind":"field","depth":162.7,"fec":959},{"curve":"mag","kind":"field","depth":163.8,"fec":1265},{"curve":"mag","kind":"field","depth":164.8,"fec":1537},{"curve":"mag","kind":"field","depth":165.3,"fec":1656},{"curve":"mag","kind":"field","depth":166.6,"fec":1639},{"curve":"mag","kind":"field","depth":167.8,"fec":1646},{"curve":"mag","kind":"field","depth":169.1,"fec":1632},{"curve":"mag","kind":"field","depth":170.4,"fec":1598},{"curve":"mag","kind":"field","depth":171.7,"fec":1571},{"curve":"mag","kind":"field","depth":173.6,"fec":1544},{"curve":"mag","kind":"field","depth":175.5,"fec":1503},{"curve":"mag","kind":"field","depth":176.9,"fec":1482},{"curve":"mag","kind":"field","depth":178.1,"fec":1459},{"curve":"mag","kind":"field","depth":180.0,"fec":1435},{"curve":"mag","kind":"field","depth":181.0,"fec":1408},{"curve":"mag","kind":"field","depth":181.9,"fec":1445},{"curve":"mag","kind":"field","depth":183.2,"fec":1435},{"curve":"mag","kind":"field","depth":184.4,"fec":1469},{"curve":"mag","kind":"field","depth":185.3,"fec":1476},{"curve":"mag","kind":"field","depth":186.4,"fec":1435},{"curve":"mag","kind":"field","depth":187.5,"fec":1462},{"curve":"mag","kind":"field","depth":188.7,"fec":1513},{"curve":"mag","kind":"field","depth":189.4,"fec":1578},{"curve":"mag","kind":"field","depth":191.2,"fec":1564},{"curve":"mag","kind":"field","depth":192.8,"fec":1578},{"curve":"mag","kind":"field","depth":194.4,"fec":1547},{"curve":"mag","kind":"field","depth":196.2,"fec":1544},{"curve":"mag","kind":"field","depth":197.6,"fec":1537},{"curve":"mag","kind":"field","depth":199.5,"fec":1503},{"curve":"mag","kind":"field","depth":201.4,"fec":1516},{"curve":"mag","kind":"field","depth":204.0,"fec":1486},{"curve":"mag","kind":"field","depth":206.2,"fec":1469},{"curve":"mag","kind":"field","depth":208.2,"fec":1476},{"curve":"mag","kind":"field","depth":210.4,"fec":1452},{"curve":"mag","kind":"field","depth":213.0,"fec":1418},{"curve":"mag","kind":"field","depth":214.9,"fec":1425},{"curve":"mag","kind":"field","depth":216.8,"fec":1394},{"curve":"mag","kind":"field","depth":219.2,"fec":1374},{"curve":"mag","kind":"field","depth":221.1,"fec":1350},{"curve":"mag","kind":"field","depth":223.2,"fec":1340},{"curve":"mag","kind":"field","depth":225.4,"fec":1316},{"curve":"mag","kind":"field","depth":227.4,"fec":1299},{"curve":"mag","kind":"field","depth":229.3,"fec":1258},{"curve":"mag","kind":"field","depth":230.5,"fec":1214},
{"curve":"magLow","kind":"model","depth":146.9,"fec":85},{"curve":"magLow","kind":"model","depth":158.2,"fec":88},{"curve":"magLow","kind":"model","depth":163.0,"fec":109},{"curve":"magLow","kind":"model","depth":164.5,"fec":143},{"curve":"magLow","kind":"model","depth":165.4,"fec":211},{"curve":"magLow","kind":"model","depth":166.4,"fec":160},{"curve":"magLow","kind":"model","depth":167.8,"fec":116},{"curve":"magLow","kind":"model","depth":169.8,"fec":95},{"curve":"magLow","kind":"model","depth":172.6,"fec":88},{"curve":"magLow","kind":"model","depth":175.5,"fec":92},{"curve":"magLow","kind":"model","depth":177.4,"fec":109},{"curve":"magLow","kind":"model","depth":178.9,"fec":143},{"curve":"magLow","kind":"model","depth":180.3,"fec":187},{"curve":"magLow","kind":"model","depth":181.8,"fec":245},{"curve":"magLow","kind":"model","depth":182.7,"fec":415},{"curve":"magLow","kind":"model","depth":183.2,"fec":364},{"curve":"magLow","kind":"model","depth":184.4,"fec":347},{"curve":"magLow","kind":"model","depth":185.1,"fec":551},{"curve":"magLow","kind":"model","depth":186.1,"fec":493},{"curve":"magLow","kind":"model","depth":187.7,"fec":391},{"curve":"magLow","kind":"model","depth":188.3,"fec":415},{"curve":"magLow","kind":"model","depth":189.0,"fec":925},{"curve":"magLow","kind":"model","depth":189.3,"fec":925},{"curve":"magLow","kind":"model","depth":191.8,"fec":833},{"curve":"magLow","kind":"model","depth":193.1,"fec":731},{"curve":"magLow","kind":"model","depth":194.7,"fec":517},{"curve":"magLow","kind":"model","depth":196.0,"fec":381},{"curve":"magLow","kind":"model","depth":197.6,"fec":221},{"curve":"magLow","kind":"model","depth":198.6,"fec":167},{"curve":"magLow","kind":"model","depth":200.2,"fec":119},{"curve":"magLow","kind":"model","depth":201.4,"fec":92},{"curve":"magLow","kind":"model","depth":203.4,"fec":85},{"curve":"magLow","kind":"model","depth":230.5,"fec":85},
{"curve":"magLow","kind":"field","depth":146.9,"fec":85},{"curve":"magLow","kind":"field","depth":158.7,"fec":88},{"curve":"magLow","kind":"field","depth":163.3,"fec":112},{"curve":"magLow","kind":"field","depth":164.8,"fec":153},{"curve":"magLow","kind":"field","depth":165.6,"fec":187},{"curve":"magLow","kind":"field","depth":166.7,"fec":153},{"curve":"magLow","kind":"field","depth":168.2,"fec":112},{"curve":"magLow","kind":"field","depth":170.7,"fec":92},{"curve":"magLow","kind":"field","depth":174.6,"fec":88},{"curve":"magLow","kind":"field","depth":176.5,"fec":99},{"curve":"magLow","kind":"field","depth":178.4,"fec":126},{"curve":"magLow","kind":"field","depth":180.3,"fec":160},{"curve":"magLow","kind":"field","depth":182.0,"fec":211},{"curve":"magLow","kind":"field","depth":183.2,"fec":245},{"curve":"magLow","kind":"field","depth":183.9,"fec":415},{"curve":"magLow","kind":"field","depth":184.7,"fec":381},{"curve":"magLow","kind":"field","depth":185.4,"fec":568},{"curve":"magLow","kind":"field","depth":186.6,"fec":449},{"curve":"magLow","kind":"field","depth":187.8,"fec":381},{"curve":"magLow","kind":"field","depth":188.5,"fec":585},{"curve":"magLow","kind":"field","depth":189.2,"fec":908},{"curve":"magLow","kind":"field","depth":190.4,"fec":857},{"curve":"magLow","kind":"field","depth":191.8,"fec":823},{"curve":"magLow","kind":"field","depth":192.8,"fec":833},{"curve":"magLow","kind":"field","depth":193.8,"fec":806},{"curve":"magLow","kind":"field","depth":194.7,"fec":687},{"curve":"magLow","kind":"field","depth":196.2,"fec":568},{"curve":"magLow","kind":"field","depth":197.6,"fec":449},{"curve":"magLow","kind":"field","depth":199.5,"fec":245},{"curve":"magLow","kind":"field","depth":200.5,"fec":143},{"curve":"magLow","kind":"field","depth":202.4,"fec":75},{"curve":"magLow","kind":"field","depth":208.2,"fec":41},{"curve":"magLow","kind":"field","depth":213.0,"fec":17},{"curve":"magLow","kind":"field","depth":230.5,"fec":14},
{"curve":"cyanLow","kind":"model","depth":146.9,"fec":85},{"curve":"cyanLow","kind":"model","depth":164.5,"fec":88},{"curve":"cyanLow","kind":"model","depth":165.4,"fec":109},{"curve":"cyanLow","kind":"model","depth":166.4,"fec":88},{"curve":"cyanLow","kind":"model","depth":174.6,"fec":88},{"curve":"cyanLow","kind":"model","depth":176.5,"fec":92},{"curve":"cyanLow","kind":"model","depth":177.4,"fec":119},{"curve":"cyanLow","kind":"model","depth":178.1,"fec":153},{"curve":"cyanLow","kind":"model","depth":179.4,"fec":119},{"curve":"cyanLow","kind":"model","depth":180.0,"fec":153},{"curve":"cyanLow","kind":"model","depth":181.3,"fec":119},{"curve":"cyanLow","kind":"model","depth":182.9,"fec":279},{"curve":"cyanLow","kind":"model","depth":183.9,"fec":177},{"curve":"cyanLow","kind":"model","depth":184.9,"fec":347},{"curve":"cyanLow","kind":"model","depth":186.1,"fec":235},{"curve":"cyanLow","kind":"model","depth":187.3,"fec":126},{"curve":"cyanLow","kind":"model","depth":188.3,"fec":235},{"curve":"cyanLow","kind":"model","depth":189.0,"fec":575},{"curve":"cyanLow","kind":"model","depth":189.3,"fec":731},{"curve":"cyanLow","kind":"model","depth":190.2,"fec":619},{"curve":"cyanLow","kind":"model","depth":191.2,"fec":425},{"curve":"cyanLow","kind":"model","depth":192.1,"fec":289},{"curve":"cyanLow","kind":"model","depth":193.1,"fec":201},{"curve":"cyanLow","kind":"model","depth":194.4,"fec":99},{"curve":"cyanLow","kind":"model","depth":195.7,"fec":85},{"curve":"cyanLow","kind":"model","depth":230.5,"fec":85},
{"curve":"cyanLow","kind":"field","depth":146.9,"fec":85},{"curve":"cyanLow","kind":"field","depth":165.0,"fec":88},{"curve":"cyanLow","kind":"field","depth":165.8,"fec":102},{"curve":"cyanLow","kind":"field","depth":166.9,"fec":88},{"curve":"cyanLow","kind":"field","depth":175.1,"fec":88},{"curve":"cyanLow","kind":"field","depth":177.0,"fec":95},{"curve":"cyanLow","kind":"field","depth":178.4,"fec":116},{"curve":"cyanLow","kind":"field","depth":179.6,"fec":143},{"curve":"cyanLow","kind":"field","depth":180.8,"fec":126},{"curve":"cyanLow","kind":"field","depth":182.2,"fec":160},{"curve":"cyanLow","kind":"field","depth":183.3,"fec":262},{"curve":"cyanLow","kind":"field","depth":184.2,"fec":194},{"curve":"cyanLow","kind":"field","depth":185.3,"fec":313},{"curve":"cyanLow","kind":"field","depth":186.6,"fec":211},{"curve":"cyanLow","kind":"field","depth":187.7,"fec":177},{"curve":"cyanLow","kind":"field","depth":188.5,"fec":449},{"curve":"cyanLow","kind":"field","depth":188.7,"fec":653},{"curve":"cyanLow","kind":"field","depth":189.4,"fec":731},{"curve":"cyanLow","kind":"field","depth":190.9,"fec":507},{"curve":"cyanLow","kind":"field","depth":192.1,"fec":391},{"curve":"cyanLow","kind":"field","depth":194.4,"fec":201},{"curve":"cyanLow","kind":"field","depth":195.7,"fec":99},{"curve":"cyanLow","kind":"field","depth":197.6,"fec":51},{"curve":"cyanLow","kind":"field","depth":200.8,"fec":17},{"curve":"cyanLow","kind":"field","depth":230.5,"fec":14}
],
"inflow":[
{"No":1,"x":"239.0","q":"-.7000","C":".0000"},
{"No":2,"x":"212.0","q":"-1.000","C":".0000"},
{"No":3,"x":"187.0","q":".7500","C":"1800."},
{"No":4,"x":"183.0","q":".1900","C":"1900."},
{"No":5,"x":"181.0","q":".1200","C":"1900."}
],
"dialog":[
{"line":1,"text":"Enter Option: \u00a0(C)-x plot, \u00a0c-(T) plot,"},
{"line":2,"text":"d/m cu(R)ve, \u00a0i(N)flow-C, \u00a0p(A)ram display,"},
{"line":3,"text":"model (X)-t plot, \u00a0tool (S)tudy x-t plot,"},
{"line":4,"text":"(D)ata x-t, \u00a0(F)ill data x-t, \u00a0d/m d(I)ff x-t,"},
{"line":5,"text":"(M)odify inp, \u00a0(P)lot adj, \u00a0(G)rid, \u00a0data t(Y)pe,"},
{"line":6,"text":"(Z) print, \u00a0sa(V)e, \u00a0(Q)uit"}
]
},
"vconcat":[
{
"width":1222,"height":613,
"view":{"fill":"#000080","stroke":"#000000","strokeWidth":1.5},
"layer":[
{"data":{"values":[{}]},"mark":{"type":"rect","fill":"#000000"},"encoding":{"x":{"datum":140,"type":"quantitative","scale":{"domain":[128.29,245.57],"nice":false,"zero":false}},"x2":{"datum":244.32},"y":{"datum":0,"type":"quantitative","scale":{"domain":[-166.6,1917.6],"nice":false,"zero":false}},"y2":{"datum":1706.8}}},
{"data":{"values":[{}]},"mark":{"type":"rule","color":"#000000","strokeWidth":2},"encoding":{"y":{"datum":1853,"type":"quantitative"}}},
{"data":{"values":[{"fec":0},{"fec":170},{"fec":340},{"fec":510},{"fec":680},{"fec":850},{"fec":1020},{"fec":1190},{"fec":1360},{"fec":1530},{"fec":1700}]},"mark":{"type":"rule","color":"#d8d8d8","strokeWidth":1.5},"encoding":{"y":{"field":"fec","type":"quantitative"},"x":{"datum":139.33,"type":"quantitative"},"x2":{"datum":140}}},
{"data":{"values":[{"fec":0},{"fec":850},{"fec":1700}]},"mark":{"type":"rule","color":"#d8d8d8","strokeWidth":1.5},"encoding":{"y":{"field":"fec","type":"quantitative"},"x":{"datum":138.85,"type":"quantitative"},"x2":{"datum":140}}},
{"data":{"values":[{"depth":140},{"depth":145.263},{"depth":150.526},{"depth":155.789},{"depth":161.053},{"depth":166.316},{"depth":171.579},{"depth":176.842},{"depth":182.105},{"depth":187.368},{"depth":192.632},{"depth":197.895},{"depth":203.158},{"depth":208.421},{"depth":213.684},{"depth":218.947},{"depth":224.211},{"depth":229.474},{"depth":234.737},{"depth":240}]},"mark":{"type":"rule","color":"#d8d8d8","strokeWidth":1.5},"encoding":{"x":{"field":"depth","type":"quantitative"},"y":{"datum":0,"type":"quantitative"},"y2":{"datum":-20.4}}},
{"data":{"values":[{"depth":140},{"depth":244.32}]},"mark":{"type":"rule","color":"#d8d8d8","strokeWidth":1.5},"encoding":{"x":{"field":"depth","type":"quantitative"},"y":{"datum":0,"type":"quantitative"},"y2":{"datum":-37.4}}},
{"data":{"name":"curves"},"mark":{"type":"line","strokeWidth":1.6},"encoding":{"x":{"field":"depth","type":"quantitative"},"y":{"field":"fec","type":"quantitative"},"color":{"field":"curve","type":"nominal","scale":{"domain":["base","init","blueLow","white","gray","green","red","lgray","yellow","blue","cyan","mag","magLow","cyanLow"],"range":["#0000ff","#909090","#0000ff","#ffffff","#8c8c8c","#00e000","#ff0000","#c8c8c8","#e4e400","#0000ff","#00d0d0","#ec00ec","#ec00ec","#00d0d0"]},"legend":null},"strokeDash":{"field":"kind","type":"nominal","scale":{"domain":["model","field"],"range":[[1,0],[7,4]]},"legend":null}}},
{"data":{"values":[{}]},"mark":{"type":"text","align":"left","baseline":"middle","fontSize":15,"color":"#e8e8e8"},"encoding":{"x":{"datum":178.58,"type":"quantitative"},"y":{"datum":1887,"type":"quantitative"},"text":{"value":"BOREHOLE PROFILE"}}},
{"data":{"values":[{}]},"mark":{"type":"text","align":"left","baseline":"middle","fontSize":13,"fontWeight":"bold","color":"#e8e8e8"},"encoding":{"x":{"datum":162.27,"type":"quantitative"},"y":{"datum":1833,"type":"quantitative"},"text":{"value":"Field: dotted"}}},
{"data":{"values":[{}]},"mark":{"type":"text","align":"left","baseline":"middle","fontSize":13,"fontWeight":"bold","color":"#e8e8e8"},"encoding":{"x":{"datum":177.72,"type":"quantitative"},"y":{"datum":1833,"type":"quantitative"},"text":{"value":"Model: solid"}}},
{"data":{"values":[{}]},"mark":{"type":"text","align":"left","baseline":"middle","fontSize":14,"fontWeight":"bold","color":"#e8e8e8"},"encoding":{"x":{"datum":130.88,"type":"quantitative"},"y":{"datum":1778,"type":"quantitative"},"text":{"value":"1700"}}},
{"data":{"values":[{}]},"mark":{"type":"text","align":"left","baseline":"middle","fontSize":14,"fontWeight":"bold","color":"#e8e8e8"},"encoding":{"x":{"datum":131.84,"type":"quantitative"},"y":{"datum":840,"type":"quantitative"},"text":{"value":"850"}}},
{"data":{"values":[{}]},"mark":{"type":"text","align":"left","baseline":"middle","fontSize":14,"fontWeight":"bold","color":"#e8e8e8"},"encoding":{"x":{"datum":131.07,"type":"quantitative"},"y":{"datum":714,"type":"quantitative"},"text":{"value":"FEC"}}},
{"data":{"values":[{}]},"mark":{"type":"text","align":"left","baseline":"middle","fontSize":14,"fontWeight":"bold","color":"#e8e8e8"},"encoding":{"x":{"datum":133.57,"type":"quantitative"},"y":{"datum":-27,"type":"quantitative"},"text":{"value":"0"}}},
{"data":{"values":[{}]},"mark":{"type":"text","align":"left","baseline":"middle","fontSize":14,"fontWeight":"bold","color":"#e8e8e8"},"encoding":{"x":{"datum":139.52,"type":"quantitative"},"y":{"datum":-92,"type":"quantitative"},"text":{"value":"140"}}},
{"data":{"values":[{}]},"mark":{"type":"text","align":"left","baseline":"middle","fontSize":14,"fontWeight":"bold","color":"#e8e8e8"},"encoding":{"x":{"datum":163.8,"type":"quantitative"},"y":{"datum":-92,"type":"quantitative"},"text":{"value":"Depth (m)"}}},
{"data":{"values":[{}]},"mark":{"type":"text","align":"left","baseline":"middle","fontSize":14,"fontWeight":"bold","color":"#e8e8e8"},"encoding":{"x":{"datum":187.8,"type":"quantitative"},"y":{"datum":-92,"type":"quantitative"},"text":{"value":"190"}}},
{"data":{"values":[{}]},"mark":{"type":"text","align":"left","baseline":"middle","fontSize":14,"fontWeight":"bold","color":"#e8e8e8"},"encoding":{"x":{"datum":239.5,"type":"quantitative"},"y":{"datum":-92,"type":"quantitative"},"text":{"value":"240"}}}
]
},
{
"bounds":"flush",
"spacing":13,
"hconcat":[
{
"width":474,"height":290,
"view":{"fill":"#000080","stroke":"#000000","strokeWidth":1.5},
"layer":[
{"data":{"values":[{}]},"mark":{"type":"rule","color":"#000000","strokeWidth":2},"encoding":{"y":{"datum":-1.568,"type":"quantitative","scale":{"domain":[-2.595,13.08],"reverse":true,"nice":false,"zero":false}}}},
{"data":{"values":[{}]},"mark":{"type":"text","align":"center","baseline":"middle","fontSize":16,"color":"#e8e8e8"},"encoding":{"x":{"datum":27.4,"type":"quantitative","scale":{"domain":[0,55.76],"nice":false,"zero":false}},"y":{"datum":-2,"type":"quantitative"},"text":{"value":"INFLOW PARAMETERS"}}},
{"data":{"values":[{}]},"mark":{"type":"text","align":"center","baseline":"middle","fontSize":14,"fontWeight":"bold","color":"#e8e8e8"},"encoding":{"x":{"datum":3.18,"type":"quantitative"},"y":{"datum":-1,"type":"quantitative"},"text":{"value":"No."}}},
{"data":{"values":[{}]},"mark":{"type":"text","align":"center","baseline":"middle","fontSize":14,"fontWeight":"bold","color":"#e8e8e8"},"encoding":{"x":{"datum":9.24,"type":"quantitative"},"y":{"datum":-1,"type":"quantitative"},"text":{"value":"x"}}},
{"data":{"values":[{}]},"mark":{"type":"text","align":"center","baseline":"middle","fontSize":14,"fontWeight":"bold","color":"#e8e8e8"},"encoding":{"x":{"datum":20.4,"type":"quantitative"},"y":{"datum":-1,"type":"quantitative"},"text":{"value":"q"}}},
{"data":{"values":[{}]},"mark":{"type":"text","align":"center","baseline":"middle","fontSize":14,"fontWeight":"bold","color":"#e8e8e8"},"encoding":{"x":{"datum":31.5,"type":"quantitative"},"y":{"datum":-1,"type":"quantitative"},"text":{"value":"C"}}},
{"data":{"values":[{}]},"mark":{"type":"text","align":"center","baseline":"middle","fontSize":14,"fontWeight":"bold","color":"#e8e8e8"},"encoding":{"x":{"datum":8.88,"type":"quantitative"},"y":{"datum":0,"type":"quantitative"},"text":{"value":"(m)"}}},
{"data":{"values":[{}]},"mark":{"type":"text","align":"center","baseline":"middle","fontSize":14,"fontWeight":"bold","color":"#e8e8e8"},"encoding":{"x":{"datum":20.3,"type":"quantitative"},"y":{"datum":0,"type":"quantitative"},"text":{"value":"(l/min)"}}},
{"data":{"values":[{}]},"mark":{"type":"text","align":"center","baseline":"middle","fontSize":14,"fontWeight":"bold","color":"#e8e8e8"},"encoding":{"x":{"datum":31.35,"type":"quantitative"},"y":{"datum":0,"type":"quantitative"},"text":{"value":"(g/l)"}}},
{"data":{"name":"inflow"},"mark":{"type":"text","align":"right","baseline":"middle","fontSize":14,"fontWeight":"bold","color":"#e8e8e8"},"encoding":{"x":{"datum":4.0,"type":"quantitative"},"y":{"field":"No","type":"quantitative"},"text":{"field":"No","type":"quantitative"}}},
{"data":{"name":"inflow"},"mark":{"type":"text","align":"right","baseline":"middle","fontSize":14,"fontWeight":"bold","color":"#e8e8e8"},"encoding":{"x":{"datum":10.82,"type":"quantitative"},"y":{"field":"No","type":"quantitative"},"text":{"field":"x","type":"nominal"}}},
{"data":{"name":"inflow"},"mark":{"type":"text","align":"right","baseline":"middle","fontSize":14,"fontWeight":"bold","color":"#e8e8e8"},"encoding":{"x":{"datum":21.9,"type":"quantitative"},"y":{"field":"No","type":"quantitative"},"text":{"field":"q","type":"nominal"}}},
{"data":{"name":"inflow"},"mark":{"type":"text","align":"right","baseline":"middle","fontSize":14,"fontWeight":"bold","color":"#e8e8e8"},"encoding":{"x":{"datum":32.9,"type":"quantitative"},"y":{"field":"No","type":"quantitative"},"text":{"field":"C","type":"nominal"}}}
]
},
{
"width":735,"height":290,
"view":{"fill":"#008000","stroke":"#000000","strokeWidth":1.5},
"layer":[
{"data":{"values":[{}]},"mark":{"type":"rule","color":"#000000","strokeWidth":2},"encoding":{"y":{"datum":0.432,"type":"quantitative","scale":{"domain":[-0.595,15.08],"reverse":true,"nice":false,"zero":false}}}},
{"data":{"values":[{}]},"mark":{"type":"text","align":"center","baseline":"middle","fontSize":16,"color":"#e8e8e8"},"encoding":{"x":{"datum":42.0,"type":"quantitative","scale":{"domain":[0,86.47],"nice":false,"zero":false}},"y":{"datum":0,"type":"quantitative"},"text":{"value":"DIALOG"}}},
{"data":{"name":"dialog"},"mark":{"type":"text","align":"left","baseline":"middle","fontSize":14,"fontWeight":"bold","color":"#e8e8e8"},"encoding":{"x":{"datum":0.82,"type":"quantitative"},"y":{"field":"line","type":"quantitative"},"text":{"field":"text","type":"nominal"}}},
{"data":{"values":[{}]},"mark":{"type":"rect","fill":"#a8a8a8"},"encoding":{"x":{"datum":0.82,"type":"quantitative"},"x2":{"datum":2.12},"y":{"datum":6.54,"type":"quantitative"},"y2":{"datum":7.41}}},
{"data":{"values":[{}]},"mark":{"type":"text","align":"center","baseline":"middle","fontSize":13,"color":"#ffffff"},"encoding":{"x":{"datum":1.45,"type":"quantitative"},"y":{"datum":6.97,"type":"quantitative"},"text":{"value":">"}}}
]
}
]
}
]
}
